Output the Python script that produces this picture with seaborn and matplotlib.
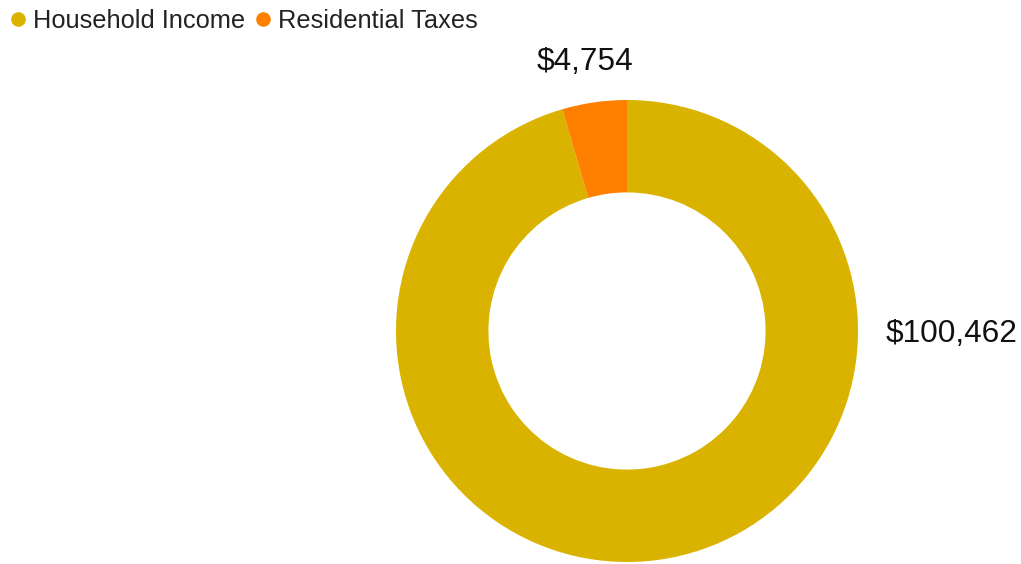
import matplotlib
matplotlib.use("Agg")
import matplotlib.pyplot as plt
from matplotlib.lines import Line2D
import seaborn as sns

categories = ["Household Income", "Residential Taxes"]
values = [100462, 4754]
labels = ["$100,462", "$4,754"]
colors = ["#D9B300", "#FF7F00"]

sns.set_theme(style="white")
plt.rcParams['font.family'] = ['Liberation Sans', 'DejaVu Sans']

W, H = 1021, 564
fig = plt.figure(figsize=(W / 100, H / 100), dpi=100)
ax = fig.add_axes([0, 0, 1, 1])

cx, cy, R = 627, H - 331, 231
wedges, _ = ax.pie(values, colors=colors, startangle=90, counterclock=False,
                   radius=R, center=(cx, cy),
                   wedgeprops=dict(width=R * 0.4, linewidth=0))
ax.set_xlim(0, W)
ax.set_ylim(0, H)
ax.set_aspect('equal')
ax.axis('off')

# value labels
ax.text(952, H - 334, labels[0], fontsize=22.8, ha='center', va='center', color='#111111')
ax.text(585, H - 62, labels[1], fontsize=22.8, ha='center', va='center', color='#111111')

handles = [Line2D([0], [0], marker='o', linestyle='', markersize=10.5,
                  markerfacecolor=c, markeredgewidth=0) for c in colors]
leg = fig.legend(handles, categories, loc='upper left', bbox_to_anchor=(0.0, 1.002),
                 ncol=2, frameon=False, fontsize=18.3, handlelength=0.6,
                 handletextpad=0.28, columnspacing=0.42, borderaxespad=0.2,
                 borderpad=0.2)
for t in leg.get_texts():
    t.set_color('#222222')

fig.savefig("out.png", dpi=100)
